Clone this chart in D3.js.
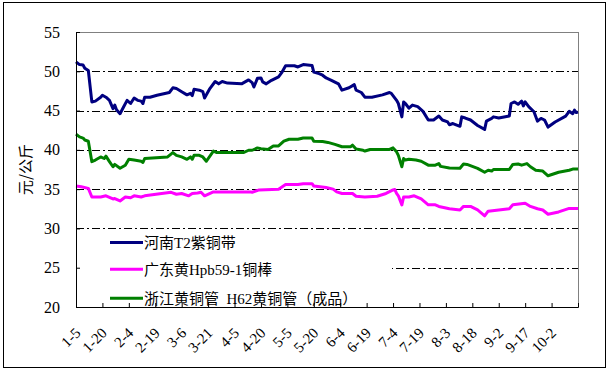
<!DOCTYPE html>
<html>
<head>
<meta charset="utf-8">
<script src="https://cdn.jsdelivr.net/npm/d3@7"></script>
<style>
  body { margin: 0; background: #fff; }
  svg { display: block; }
</style>
</head>
<body>
<div id="chart"></div>
<script>
// x values are days counted from 1-5
const tickLabels = ["1-5", "1-20", "2-4", "2-19", "3-6", "3-21", "4-5", "4-20", "5-5", "5-20",
  "6-4", "6-19", "7-4", "7-19", "8-3", "8-18", "9-2", "9-17", "10-2"];
const yTicks = [20, 25, 30, 35, 40, 45, 50, 55];
const seriesNames = ["河南T2紫铜带", "广东黄Hpb59-1铜棒", "浙江黄铜管  H62黄铜管（成品）"];

const henan = [[0,51.2],[2,50.85],[4,50.8],[5,50.4],[7,50.1],[9,46.1],[11,46.2],[14,46.7],[15,46.95],[17,46.7],
  [19,46.3],[21,45.25],[22,45.7],[23,45.1],[25,44.6],[27,45.45],[29,46.3],[31,45.9],[33,46.6],[35,46.3],
  [37,46.2],[38,45.9],[39,46.7],[42,46.7],[46,46.95],[53,47.3],[55,47.9],[57,47.8],[60,47.4],[63,47.0],
  [65,47.2],[66,46.9],[67,47.7],[70,47.6],[72,47.4],[73,46.6],[76,47.8],[79,48.7],[81,48.4],[83,48.7],
  [86,48.5],[94,48.4],[98,48.9],[100,48.55],[101,48.0],[103,49.1],[105,49.15],[106,48.65],[108,48.4],[111,48.85],
  [115,49.3],[117,49.9],[119,50.7],[124,50.7],[126,50.55],[129,50.85],[134,50.75],[135,49.9],[138,49.7],[140,49.5],
  [142,49.15],[145,48.85],[149,48.4],[151,47.6],[155,47.9],[158,48.3],[159,47.6],[162,47.3],[164,46.7],[168,46.7],
  [174,47.0],[178,47.3],[179,47.2],[182,46.3],[183,45.9],[185,44.2],[186,46.1],[187,45.9],[189,45.3],[191,45.7],
  [194,45.5],[197,44.9],[200,43.8],[203,43.8],[206,44.3],[208,43.8],[211,43.55],[212,43.2],[214,43.35],[218,43.0],
  [219,44.2],[221,44.05],[224,43.8],[228,43.1],[232,42.6],[233,43.65],[236,44.0],[237,44.2],[240,44.05],[246,44.3],
  [247,45.9],[249,46.1],[251,45.8],[253,46.2],[254,45.6],[255,46.1],[257,45.5],[260,44.85],[262,43.65],[264,44.0],
  [266,43.8],[268,42.9],[272,43.55],[278,44.3],[280,44.9],[282,44.6],[283,45.05],[284,44.75],[285,44.8]];

const guangdong = [[0,35.4],[3,35.3],[7,35.1],[9,34.0],[14,34.0],[17,34.15],[21,33.75],[22,33.8],[25,33.5],[28,34.0],
  [31,33.9],[33,34.15],[37,34.0],[39,34.15],[54,34.6],[57,34.35],[60,34.45],[64,34.15],[66,34.45],[69,34.5],
  [71,34.6],[73,34.15],[78,34.65],[99,34.65],[100,34.6],[104,34.9],[115,35.0],[119,35.6],[126,35.6],[129,35.7],
  [134,35.7],[135,35.4],[142,35.2],[146,35.0],[148,34.65],[151,34.45],[157,34.45],[159,34.1],[164,34.0],[171,34.1],
  [176,34.45],[180,34.9],[181,34.95],[182,34.45],[183,34.15],[185,33.0],[186,34.0],[189,34.0],[192,34.15],[196,33.75],
  [200,33.0],[204,33.0],[206,32.8],[212,32.5],[218,32.35],[220,32.8],[224,32.8],[228,32.35],[232,31.6],[234,32.2],
  [246,32.5],[248,33.0],[255,33.2],[258,32.8],[262,32.5],[265,32.35],[268,31.8],[274,32.1],[280,32.55],[285,32.55]];

const zhejiang = [[0,42.0],[2,41.65],[4,41.5],[5,41.25],[7,41.1],[9,38.5],[11,38.7],[14,39.1],[16,38.9],[17,39.2],
  [19,38.5],[21,37.85],[22,38.15],[25,37.65],[28,38.05],[30,38.8],[33,38.7],[37,38.55],[38,38.4],[39,38.9],
  [52,39.1],[55,39.65],[57,39.3],[60,39.1],[63,38.8],[65,39.1],[66,38.8],[67,39.3],[70,39.3],[72,39.1],
  [74,38.55],[78,39.85],[80,39.65],[95,39.65],[98,39.95],[100,39.95],[103,40.25],[105,40.15],[109,40.05],[112,40.5],
  [115,40.5],[118,41.1],[121,41.35],[126,41.35],[129,41.5],[134,41.5],[135,41.1],[140,41.05],[143,40.95],[147,40.7],
  [151,40.4],[156,40.4],[157,40.6],[159,40.1],[163,39.95],[164,39.85],[167,40.05],[178,40.05],[180,40.25],[182,39.75],
  [183,39.3],[185,37.85],[186,38.9],[187,38.7],[189,38.8],[193,38.7],[196,38.55],[200,38.05],[204,38.05],[206,38.25],
  [207,37.9],[212,37.7],[218,37.65],[220,38.2],[222,38.15],[228,37.65],[232,37.15],[234,37.4],[236,37.3],[237,37.5],
  [246,37.5],[248,38.15],[251,38.2],[253,38.05],[256,38.25],[258,37.85],[261,37.4],[265,37.3],[268,36.7],[274,37.15],
  [280,37.4],[282,37.55],[285,37.55]];

const colors = ["#000080", "#ff00ff", "#008000"];

(function () {
  const W = 611, H = 372;
  const margin = { top: 32, right: 33, bottom: 65, left: 76 };
  const width = W - margin.left - margin.right;
  const height = H - margin.top - margin.bottom;

  const svg = d3.select("#chart").append("svg")
    .attr("width", W)
    .attr("height", H);

  // outer frame
  svg.append("rect")
    .attr("x", 3.5).attr("y", 2.5)
    .attr("width", 602).attr("height", 365)
    .attr("fill", "#fff")
    .attr("stroke", "#000");

  const g = svg.append("g")
    .attr("transform", `translate(${margin.left},${margin.top})`);

  const x = d3.scaleLinear().domain([0, 285]).range([0, width]);
  const y = d3.scaleLinear().domain([20, 55]).range([height, 0]);

  // plot area border (grey top / right)
  g.append("rect")
    .attr("x", 0.5).attr("y", 0.5)
    .attr("width", width).attr("height", height)
    .attr("fill", "none")
    .attr("stroke", "#808080");

  // dash-dot gridlines
  g.append("g")
    .selectAll("line")
    .data(yTicks.filter(v => v > 20 && v < 55))
    .enter()
    .append("line")
    .attr("x1", 0).attr("x2", width)
    .attr("y1", d => Math.round(y(d)) + 0.5)
    .attr("y2", d => Math.round(y(d)) + 0.5)
    .attr("stroke", "#000")
    .attr("stroke-dasharray", "8,3,2,3");

  // series lines
  const line = d3.line()
    .x(d => x(d[0]))
    .y(d => y(d[1]));

  [henan, guangdong, zhejiang].forEach((s, i) => {
    g.append("path")
      .datum(s)
      .attr("fill", "none")
      .attr("stroke", colors[i])
      .attr("stroke-width", 3)
      .attr("stroke-linejoin", "round")
      .attr("d", line);
  });

  // legend (white box covers grid)
  const legend = g.append("g");
  legend.append("rect")
    .attr("x", 1).attr("y", y(28.6))
    .attr("width", 315).attr("height", height - y(28.6) - 1)
    .attr("fill", "#fff");

  const rowY = [y(28.2), y(24.8), y(21.1)];
  seriesNames.forEach((name, i) => {
    legend.append("line")
      .attr("x1", 34).attr("x2", 67)
      .attr("y1", rowY[i]).attr("y2", rowY[i])
      .attr("stroke", colors[i])
      .attr("stroke-width", 3);
    legend.append("text")
      .attr("x", 68)
      .attr("y", rowY[i] + 5.5)
      .style("font-family", "'Liberation Serif','Noto Sans CJK SC',serif")
      .style("font-size", "15px")
      .style("white-space", "pre")
      .text(name);
  });

  // y axis
  const yAxis = g.append("g")
    .call(d3.axisLeft(y).tickValues(yTicks).tickSize(-4).tickSizeOuter(0).tickPadding(16));
  yAxis.select(".domain").attr("stroke", "#000");
  yAxis.selectAll(".tick line").attr("stroke", "#000");
  yAxis.selectAll(".tick text")
    .style("font-family", "'Liberation Serif',serif")
    .style("font-size", "16px")
    .attr("fill", "#000");

  // x axis
  const xAxis = g.append("g")
    .attr("transform", `translate(0,${height})`)
    .call(d3.axisBottom(x)
      .tickValues(d3.range(0, 286, 15))
      .tickSize(-4)
      .tickSizeOuter(0)
      .tickFormat((d, i) => tickLabels[i] || ""));
  xAxis.select(".domain").attr("stroke", "#000");
  xAxis.selectAll(".tick line").attr("stroke", "#000");
  xAxis.selectAll(".tick text")
    .attr("x", 0).attr("y", 0).attr("dy", 0)
    .attr("text-anchor", "end")
    .attr("transform", "translate(5,27) rotate(-45)")
    .style("font-family", "'Liberation Serif',serif")
    .style("font-size", "15px")
    .attr("fill", "#000");

  // y title
  svg.append("text")
    .attr("transform", `translate(24,${margin.top + y(37.5)}) rotate(-90)`)
    .attr("text-anchor", "middle")
    .attr("dominant-baseline", "central")
    .style("font-family", "'Noto Sans CJK SC',sans-serif")
    .style("font-size", "15px")
    .text("元/公斤");
})();
</script>
</body>
</html>
